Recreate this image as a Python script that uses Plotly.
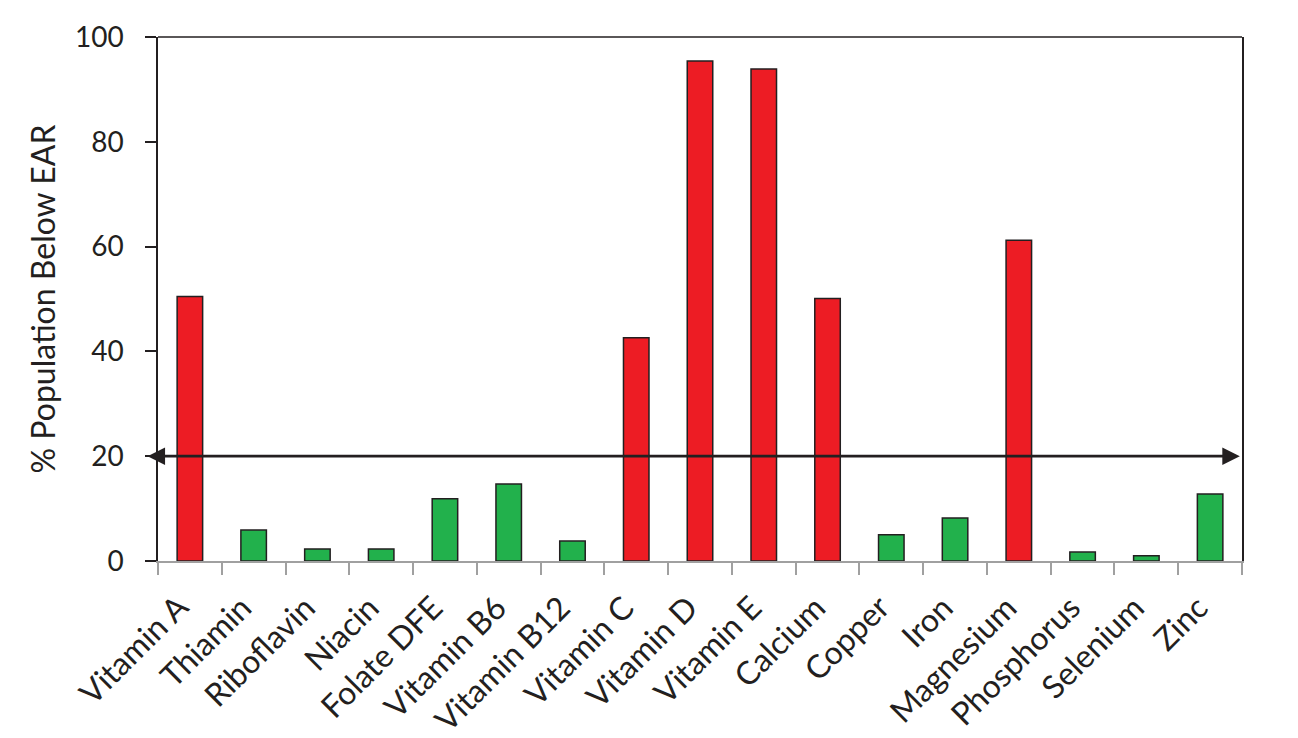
import plotly.graph_objects as go

nutrients = ["Vitamin A", "Thiamin", "Riboflavin", "Niacin", "Folate DFE",
             "Vitamin B6", "Vitamin B12", "Vitamin C", "Vitamin D", "Vitamin E",
             "Calcium", "Copper", "Iron", "Magnesium", "Phosphorus", "Selenium", "Zinc"]
pct_below_ear = [50.5, 5.9, 2.3, 2.3, 11.9, 14.7, 3.8, 42.6, 95.4, 93.9,
                 50.1, 5.0, 8.2, 61.2, 1.7, 1.0, 12.8]
threshold = 20

RED = "#ED1C24"
GREEN = "#22B14C"
INK = "#231F20"

# bars over the 20% line are red, the rest green
colors = [RED if v > threshold else GREEN for v in pct_below_ear]

fig = go.Figure()
fig.add_bar(
    x=nutrients,
    y=pct_below_ear,
    width=0.4,
    marker=dict(color=colors, line=dict(color=INK, width=1.5)),
)

# double-headed arrow at the 20% cut-off
fig.add_annotation(
    xref="x domain", yref="y", axref="x domain", ayref="y",
    x=0.998, y=threshold, ax=-0.011, ay=threshold,
    showarrow=True, arrowside="end+start", arrowhead=2,
    arrowsize=1.25, arrowwidth=2.8, arrowcolor=INK, text="",
)

# top frame line
fig.add_shape(type="line", xref="paper", yref="paper",
              x0=0, x1=1, y0=1, y1=1, line=dict(color=INK, width=1.5))

font = "Lato, 'Open Sans', sans-serif"
# page body adds an 8px offset, so margins are shifted to compensate
fig.update_layout(
    width=1298, height=738,
    margin=dict(l=150, r=64, t=29, b=185),
    plot_bgcolor="white", paper_bgcolor="white",
    showlegend=False,
    font=dict(family=font, color=INK, size=26),
    bargap=0.6,
)
# trailing nbsp nudges the rotated labels down-left a little
fig.update_xaxes(
    automargin=False,
    tickmode="array", tickvals=nutrients,
    ticktext=[n + "\u00a0\u00a0" for n in nutrients],
    tickangle=-45, tickfont=dict(size=32), ticklabelstandoff=2,
    showline=True, linecolor="#A0A0A0", linewidth=1.5,
    ticks="outside", tickson="boundaries", ticklen=12, tickcolor="#A0A0A0", tickwidth=1.5,
    showgrid=False,
)
fig.update_yaxes(
    automargin=False,
    range=[0, 100], dtick=20, tickfont=dict(size=28),
    ticklabelstandoff=16,
    title=dict(text="% Population Below EAR", font=dict(size=32), standoff=10),
    showline=True, linecolor=INK, linewidth=1.5, mirror=True,
    ticks="outside", ticklen=11, tickcolor=INK, tickwidth=1.5,
    showgrid=False, zeroline=False,
)

fig.write_html("out.html")
